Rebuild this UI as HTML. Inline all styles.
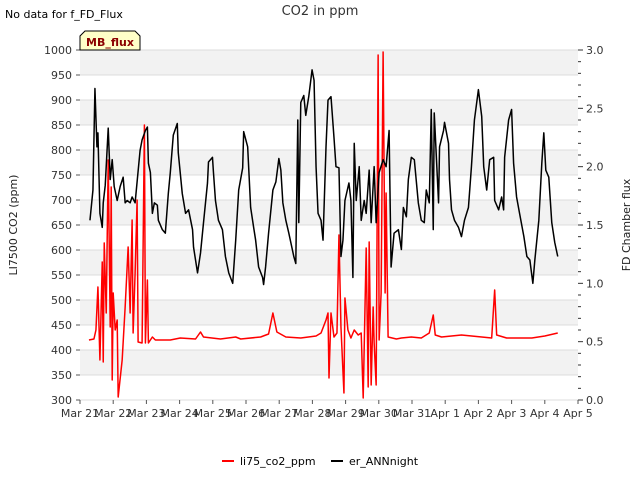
<!DOCTYPE html>
<html><head><meta charset="utf-8"><style>
body{margin:0;background:#fff;font-family:"Liberation Sans","DejaVu Sans",sans-serif;}
svg text{font-family:"DejaVu Sans","Liberation Sans",sans-serif;}
</style></head><body>
<svg id="c" width="640" height="480" xmlns="http://www.w3.org/2000/svg">
<text x="5" y="18" font-size="11" fill="#000">No data for f_FD_Flux</text>
<text x="320" y="15" font-size="13" fill="#333" text-anchor="middle">CO2 in ppm</text>
<g id="bands"></g><g id="axes"></g><g id="series"></g>
<g>
<path d="M80,50 L80,36 L85,31 L135,31 L140,36 L140,50 Z" fill="#ffffc8" stroke="#000" stroke-width="1"/>
<text x="110" y="46" font-size="11" font-weight="bold" fill="#8b0000" text-anchor="middle">MB_flux</text></g>
<text transform="translate(17,225) rotate(-90)" font-size="11" text-anchor="middle" fill="#222">LI7500 CO2 (ppm)</text>
<text transform="translate(630,225) rotate(-90)" font-size="11" text-anchor="middle" fill="#222">FD Chamber flux</text>
<g>
<g><line x1="222" y1="461" x2="234" y2="461" stroke="#f00" stroke-width="2"/><text x="240" y="465" font-size="11">li75_co2_ppm</text></g>
<g><line x1="331" y1="461" x2="343" y2="461" stroke="#000" stroke-width="2"/><text x="349" y="465" font-size="11">er_ANNnight</text></g>
</g>
</svg>
<script>
const xTickLabels=["Mar 21","Mar 22","Mar 23","Mar 24","Mar 25","Mar 26","Mar 27","Mar 28","Mar 29","Mar 30","Mar 31","Apr 1","Apr 2","Apr 3","Apr 4","Apr 5"];
const yTicks=[300,350,400,450,500,550,600,650,700,750,800,850,900,950,1000];
const y2Ticks=[0.0,0.5,1.0,1.5,2.0,2.5,3.0];
const redDays=[0.27,0.42,0.48,0.54,0.60,0.67,0.70,0.73,0.79,0.85,0.91,0.94,0.97,1.00,1.06,1.12,1.15,1.27,1.36,1.45,1.51,1.57,1.60,1.66,1.72,1.75,1.87,1.94,1.97,2.03,2.06,2.18,2.27,2.42,2.72,3.02,3.48,3.63,3.72,4.23,4.69,4.84,5.44,5.68,5.81,5.93,6.20,6.65,7.11,7.26,7.41,7.47,7.50,7.56,7.65,7.74,7.80,7.86,7.95,7.98,8.07,8.16,8.26,8.38,8.47,8.53,8.62,8.68,8.71,8.77,8.83,8.86,8.92,8.98,9.01,9.07,9.13,9.19,9.22,9.28,9.53,9.68,9.98,10.28,10.52,10.64,10.70,10.89,11.49,12.10,12.40,12.49,12.55,12.85,13.61,14.00,14.39];
const redPpm=[420,422,440,526,380,576,376,614,474,780,446,726,340,514,440,460,306,380,486,606,474,660,434,554,700,416,414,850,414,540,414,426,420,420,420,424,422,436,426,422,426,422,426,432,474,436,426,424,428,434,460,474,344,474,426,434,630,446,314,504,440,424,440,430,434,304,604,326,616,330,486,414,330,990,420,514,996,514,714,426,422,424,426,424,434,470,430,426,430,426,424,520,430,424,424,428,434];
const blkDays=[0.30,0.39,0.45,0.51,0.54,0.60,0.67,0.70,0.76,0.85,0.91,0.97,1.03,1.12,1.21,1.30,1.36,1.42,1.51,1.57,1.66,1.72,1.81,1.87,1.97,2.03,2.06,2.12,2.18,2.24,2.33,2.36,2.48,2.57,2.66,2.72,2.81,2.93,2.96,3.08,3.18,3.27,3.39,3.42,3.54,3.63,3.72,3.84,3.87,3.99,4.02,4.08,4.17,4.29,4.38,4.48,4.60,4.69,4.78,4.90,4.93,5.05,5.14,5.23,5.29,5.38,5.50,5.53,5.59,5.68,5.81,5.90,5.99,6.05,6.11,6.20,6.29,6.35,6.44,6.50,6.56,6.59,6.65,6.74,6.80,6.89,6.99,7.05,7.11,7.17,7.26,7.32,7.41,7.47,7.56,7.65,7.71,7.80,7.86,7.92,7.98,8.10,8.16,8.22,8.26,8.32,8.41,8.47,8.56,8.62,8.71,8.77,8.86,8.92,9.01,9.13,9.22,9.31,9.37,9.46,9.59,9.68,9.74,9.83,9.89,9.98,10.07,10.19,10.28,10.37,10.43,10.52,10.58,10.64,10.67,10.80,10.83,10.95,10.98,11.10,11.13,11.19,11.28,11.40,11.49,11.58,11.70,11.79,11.88,12.00,12.10,12.16,12.25,12.34,12.46,12.49,12.61,12.70,12.76,12.79,12.91,13.00,13.06,13.15,13.24,13.37,13.46,13.55,13.64,13.70,13.82,13.91,13.97,14.03,14.12,14.21,14.30,14.39];
const blkFlux=[1.54,1.80,2.67,2.17,2.29,1.60,1.48,1.69,1.84,2.33,1.89,2.06,1.83,1.71,1.83,1.91,1.69,1.71,1.69,1.74,1.69,1.87,2.14,2.23,2.31,2.34,2.03,1.95,1.60,1.69,1.67,1.54,1.46,1.43,1.77,1.95,2.27,2.37,2.12,1.77,1.60,1.63,1.46,1.31,1.09,1.26,1.52,1.86,2.04,2.08,1.95,1.71,1.54,1.46,1.23,1.09,1.00,1.37,1.80,1.99,2.30,2.17,1.65,1.48,1.37,1.14,1.05,0.99,1.14,1.43,1.80,1.87,2.07,1.97,1.69,1.54,1.43,1.35,1.23,1.17,2.40,1.52,2.55,2.61,2.44,2.60,2.83,2.74,2.00,1.60,1.54,1.37,2.17,2.57,2.60,2.25,2.00,1.99,1.23,1.37,1.71,1.86,1.71,1.05,2.20,1.71,2.00,1.54,1.71,1.60,1.97,1.52,2.00,1.52,1.95,2.06,2.00,2.31,1.14,1.43,1.46,1.29,1.65,1.57,1.89,2.08,2.06,1.69,1.54,1.52,1.80,1.69,2.49,1.46,2.46,1.69,2.17,2.31,2.38,2.20,1.89,1.63,1.54,1.48,1.40,1.54,1.65,2.00,2.40,2.66,2.43,2.00,1.80,2.06,2.08,1.71,1.63,1.74,1.63,2.08,2.40,2.49,2.03,1.74,1.60,1.40,1.23,1.20,1.00,1.20,1.54,2.03,2.29,1.97,1.91,1.52,1.35,1.23];

const L=80,R=578,T=50,B=400,NS='http://www.w3.org/2000/svg';
const xS=d=>L+d*(R-L)/15;
const yS=p=>B-(p-300)*(B-T)/700;
const y2S=f=>B-f*(B-T)/3;
function mk(tag,attrs,parent){const e=document.createElementNS(NS,tag);for(const k in attrs)e.setAttribute(k,attrs[k]);parent.appendChild(e);return e;}
const bands=document.getElementById('bands'),axes=document.getElementById('axes'),series=document.getElementById('series');
for(let i=0;i<yTicks.length-1;i++){
  if(i%2===1){const r=mk('rect',{x:L,y:yS(yTicks[i+1]),width:R-L,height:yS(yTicks[i])-yS(yTicks[i+1]),fill:'#f2f2f2'},bands);
  
  }
}
yTicks.forEach(v=>{
  const g=mk('line',{x1:L,x2:R,y1:yS(v),y2:yS(v),stroke:'#dcdcdc','stroke-width':1},bands);
  
  
  mk('line',{x1:L-4,x2:L,y1:yS(v),y2:yS(v),stroke:'#555'},axes);
  const t=mk('text',{x:L-8,y:yS(v)+4,'font-size':11,'text-anchor':'end',fill:'#333'},axes);
  t.textContent=v;
  
  
});
for(let i=0;i<=30;i++){const y=y2S(i/10);mk('line',{x1:R,x2:R+(i%5===0?5:3),y1:y,y2:y,stroke:'#333'},axes);}
y2Ticks.forEach(v=>{
  const t=mk('text',{x:R+8,y:y2S(v)+4,'font-size':11,fill:'#333'},axes);
  t.textContent=v.toFixed(1);
  
  
});
xTickLabels.forEach((s,i)=>{
  mk('line',{x1:xS(i),x2:xS(i),y1:B,y2:B+4,stroke:'#555'},axes);
  const t=mk('text',{x:xS(i),y:B+17,'font-size':11,'text-anchor':'middle',fill:'#333'},axes);
  t.textContent=s;
  
  
});
const rp=mk('polyline',{points:redDays.map((d,i)=>xS(d)+','+yS(redPpm[i])).join(' '),fill:'none',stroke:'#ff0000','stroke-width':1.5,'stroke-linejoin':'round'},series);


const bp=mk('polyline',{points:blkDays.map((d,i)=>xS(d)+','+y2S(blkFlux[i])).join(' '),fill:'none',stroke:'#000','stroke-width':1.5,'stroke-linejoin':'round'},series);


</script>
</body></html>
